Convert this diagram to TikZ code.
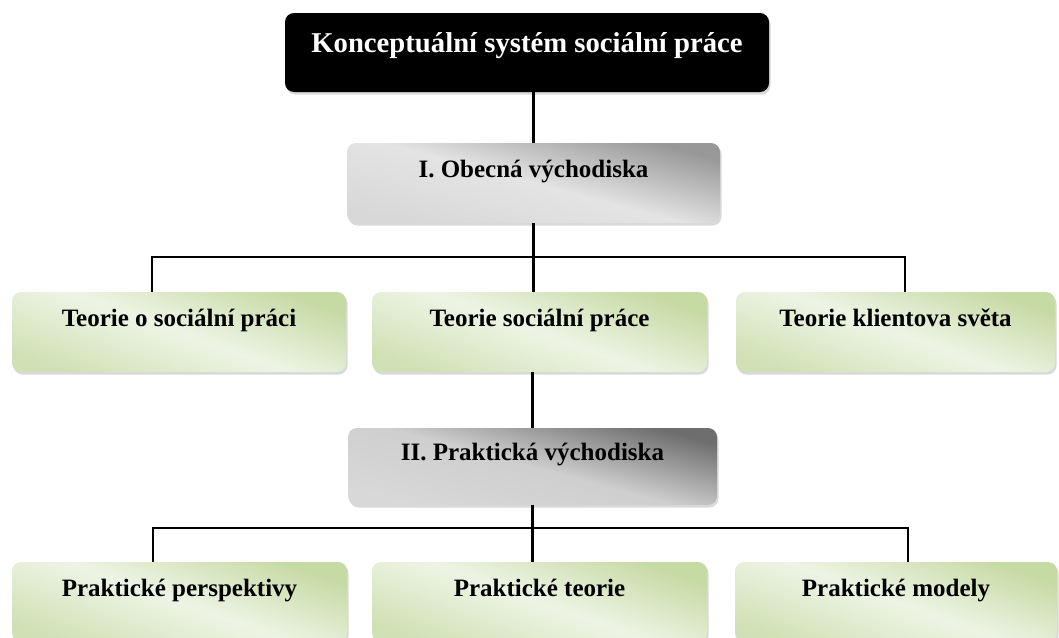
\documentclass[tikz,border=0pt]{standalone}
\usepackage{fontspec}
\setmainfont{Liberation Serif}
\usepackage{tikz}
\usetikzlibrary{shadows}

\definecolor{boxgreen}{HTML}{C6DAA4}
\definecolor{boxgreenlight}{HTML}{EEF4E5}
\definecolor{boxgray}{HTML}{989898}
\definecolor{boxgraylight}{HTML}{D8D8D8}
\definecolor{boxgraydark}{HTML}{6E6E6E}

\begin{document}
\begin{tikzpicture}[x=1pt, y=-1pt,
    box/.style={rounded corners=9pt, minimum height=80pt, inner sep=0pt, align=center,
        font=\bfseries\fontsize{25}{30}\selectfont, text height=18pt, text depth=30pt,
        drop shadow={shadow xshift=1.5pt, shadow yshift=-2.5pt, opacity=0.3}},
    rootbox/.style={box, fill=black, text=white,
        font=\bfseries\fontsize{28.7}{34}\selectfont, text height=20pt, text depth=20pt},
    graybox/.style={box, top color=boxgray, bottom color=boxgraylight, middle color=boxgraylight!70!white, shading angle=-15},
    darkbox/.style={box, top color=boxgraydark, bottom color=boxgraylight, middle color=boxgraylight!85!boxgray, shading angle=-15},
    greenbox/.style={box, top color=boxgreen, bottom color=boxgreen!80!white, middle color=boxgreenlight, shading angle=-20},
    link/.style={draw, line width=2.6pt}
]
\useasboundingbox (0,0) rectangle (1059,637);
\clip (0,0) rectangle (1059,637);

\node[rootbox, minimum width=484pt, minimum height=79pt] (konzept) at (527,52.5) {Konceptuální systém sociální práce};
\node[graybox, minimum width=373pt] (obecna) at (533.5,183) {I. Obecná východiska};

\node[greenbox, minimum width=334pt] (teorieo) at (179,332) {Teorie o sociální práci};
\node[greenbox, minimum width=335pt] (teoriesp) at (539.5,332) {Teorie sociální práce};
\node[greenbox, minimum width=319pt] (teoriekl) at (895.5,332) {Teorie klientova světa};

\node[darkbox, minimum width=369pt, minimum height=77pt] (prakticka) at (532.5,466.5) {II. Praktická východiska};

\node[greenbox, minimum width=335pt] (perspektivy) at (179.5,602) {Praktické perspektivy};
\node[greenbox, minimum width=335pt] (teorie) at (539.5,602) {Praktické teorie};
\node[greenbox, minimum width=322pt] (modely) at (896,602) {Praktické modely};

\coordinate (bus1l) at (152,257);
\coordinate (bus1r) at (905,257);
\coordinate (bus2l) at (153,528);
\coordinate (bus2r) at (908,528);

\draw[link] (obecna.north) -- (obecna.north |- konzept.south);
\draw[link] (obecna.south) -- (obecna.south |- teoriesp.north);
\draw[link] (bus1l |- teorieo.north) -- (bus1l) -- (bus1r) -- (bus1r |- teoriekl.north);
\draw[link] (prakticka.north) -- (prakticka.north |- teoriesp.south);
\draw[link] (prakticka.south) -- (prakticka.south |- teorie.north);
\draw[link] (bus2l |- perspektivy.north) -- (bus2l) -- (bus2r) -- (bus2r |- modely.north);
\end{tikzpicture}
\end{document}
